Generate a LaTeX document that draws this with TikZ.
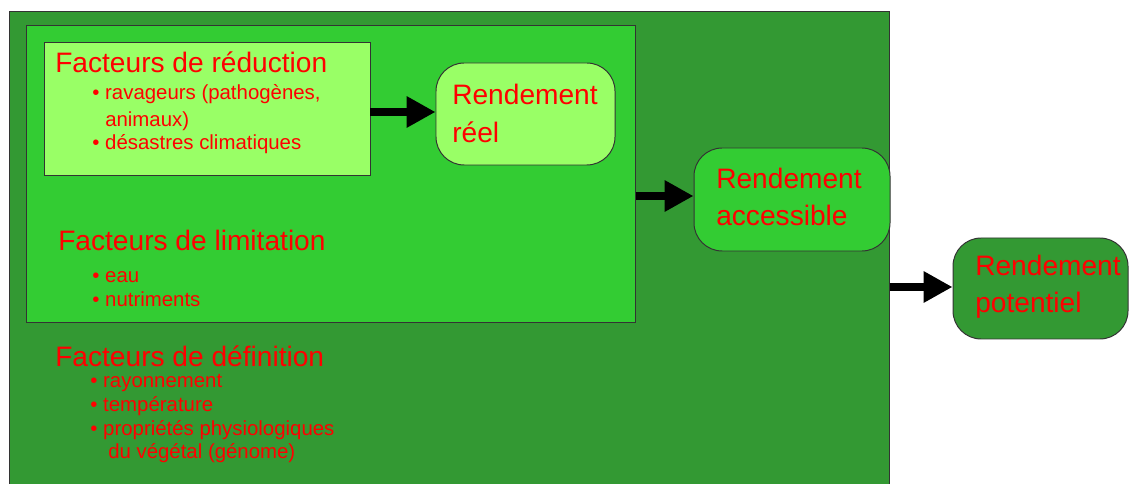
\documentclass[tikz,border=0pt]{standalone}
\usepackage{fontspec}
\setmainfont{Liberation Sans}
\usetikzlibrary{arrows.meta,fit}

\definecolor{vertfonce}{HTML}{339933}
\definecolor{vertmoyen}{HTML}{33CC33}
\definecolor{vertclair}{HTML}{99FF66}
\definecolor{rouge}{HTML}{FF0000}

\newcommand{\puce}{\makebox[9.2pt][l]{•}}

\tikzset{
  boite/.style={draw=black!80, line width=0.7pt, inner sep=0pt},
  arrondi/.style={boite, rounded corners=20pt},
  titre/.style={anchor=base west, text=rouge, font=\fontsize{20}{24}\selectfont},
  liste/.style={anchor=base west, text=rouge, font=\fontsize{14.5}{17}\selectfont},
  fleche/.style={line width=5.7pt, -{Triangle[length=20.5pt,width=21pt]}}
}

\begin{document}
\begin{tikzpicture}[x=0.025cm,y=-0.025cm]
\tikzstyle{every node}+=[inner sep=0pt]
\useasboundingbox (0,0) rectangle (1129,484);

\node[boite, fill=vertfonce, fit={(9,11) (889,495)}] (definition) {};
\node[boite, fill=vertmoyen, fit={(26,25) (635,322)}] (limitation) {};
\node[boite, fill=vertclair, fit={(44,42) (370,175)}] (reduction) {};

\node[arrondi, fill=vertclair, fit={(436,63) (615,165)}] (reel) {};
\node[arrondi, fill=vertmoyen, fit={(694,148) (890,251)}] (accessible) {};
\node[arrondi, fill=vertfonce, fit={(953,238) (1128,339)}] (potentiel) {};

\node[titre] (reel1) at (452,105) {Rendement};
\node[titre] (reel2) at (452,143) {réel};
\node[titre] (acc1) at (716,189) {Rendement};
\node[titre] (acc2) at (716,226) {accessible};
\node[titre] (pot1) at (975,276) {Rendement};
\node[titre] (pot2) at (975,313) {potentiel};

\node[titre] (t1) at (55,73) {Facteurs de réduction};
\node[liste] (r1) at (92,100) {\puce ravageurs (pathogènes,};
\node[liste] (r2) at (105,127) {animaux)};
\node[liste] (r3) at (92,150) {\puce désastres climatiques};

\node[titre] (t2) at (58,251) {Facteurs de limitation};
\node[liste] (l1) at (92,283) {\puce eau};
\node[liste] (l2) at (92,307) {\puce nutriments};

\node[titre] (t3) at (55,366) {Facteurs de définition};
\node[liste] (d1) at (90,387) {\puce rayonnement};
\node[liste] (d2) at (90,411) {\puce température};
\node[liste] (d3) at (90,435) {\puce propriétés physiologiques};
\node[liste] (d4) at (108,458) {du végétal (génome)};

\draw[fleche] (reduction.east |- 0,112) -- (reel.west |- 0,112);
\draw[fleche] (limitation.east |- 0,196) -- (accessible.west |- 0,196);
\draw[fleche] (definition.east |- 0,287) -- (potentiel.west |- 0,287);
\end{tikzpicture}
\end{document}
